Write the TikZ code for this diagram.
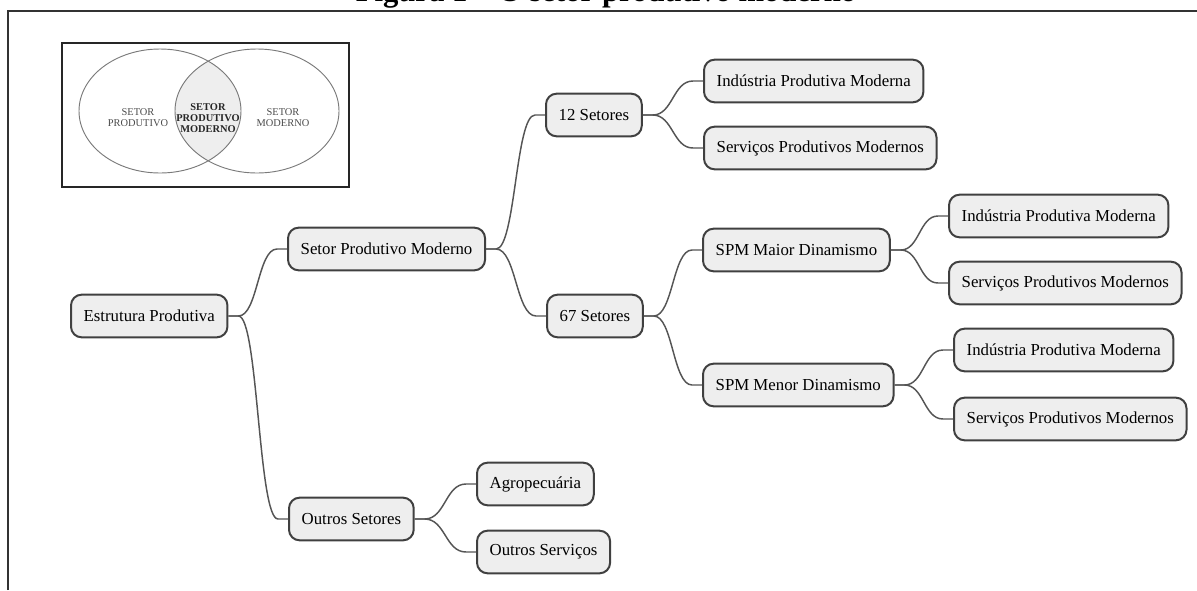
\documentclass[tikz,border=0pt]{standalone}
\usepackage{fontspec}
\setmainfont{Liberation Serif}
\usetikzlibrary{calc}

\definecolor{boxfill}{HTML}{EEEEEE}
\definecolor{boxline}{HTML}{404040}
\definecolor{linkgray}{HTML}{555555}
\definecolor{venngray}{HTML}{7A7A7A}
\definecolor{venntext}{HTML}{4A4A4A}

\tikzset{
  topic/.style={draw=boxline, line width=1.5pt, fill=boxfill, rounded corners=8pt, anchor=west,
    minimum height=32pt, inner xsep=9.5pt, font=\fontsize{12.6}{15}\selectfont},
  link/.style={draw=linkgray, line width=1.1pt},
  venn/.style={align=center, text=venntext, inner sep=0pt, font=\fontsize{7.8}{8.4}\selectfont},
}

% curved connector from the right side of #1 to the left side of #2
\newcommand{\branch}[2]{%
  \draw[link] let \p1=(#1.east), \p2=(#2.west) in
    (\p1) -- ++(7.5pt,0)
    .. controls ({(\x1+\x2)/2},\y1) and ({(\x1+\x2)/2},\y2) .. ($(\p2)+(-7.5pt,0)$)
    -- (\p2);}

\begin{document}
\begin{tikzpicture}[x=0.75pt, y=-0.75pt]
  \useasboundingbox (0,0) rectangle (1197,590);

  % page frame and title (cut off at the top)
  \begin{scope}
    \clip (0,0) rectangle (1197,590);
    \node[anchor=base, font=\bfseries\fontsize{23}{27}\selectfont] (title) at (606,1.5) {Figura 1 -- O setor produtivo moderno};
  \end{scope}
  \draw[line width=1.2pt, black!80] (8,590) -- (8,11) -- (1197,11);

  % venn diagram
  \draw[line width=0.8pt, black!85] (62,43) rectangle (349,187);
  \begin{scope}
    \clip (160,111) ellipse [x radius=81, y radius=62];
    \fill[boxfill] (257,111) ellipse [x radius=82, y radius=62];
  \end{scope}
  \draw[venngray, line width=0.7pt] (160,111) ellipse [x radius=81, y radius=62];
  \draw[venngray, line width=0.7pt] (257,111) ellipse [x radius=82, y radius=62];
  \node[venn] (vprod) at (138,118) {SETOR\\PRODUTIVO};
  \node[venn, text=black!85, font=\bfseries\fontsize{7.8}{8.4}\selectfont] (vspm) at (208,118) {SETOR\\PRODUTIVO\\MODERNO};
  \node[venn] (vmod) at (283,118) {SETOR\\MODERNO};

  % mind map
  \node[topic] (root) at (70,316) {Estrutura Produtiva};
  \node[topic] (spm) at (287,249) {Setor Produtivo Moderno};
  \node[topic] (outros) at (288,519) {Outros Setores};

  \node[topic] (s12) at (545,115) {12 Setores};
  \node[topic] (s67) at (546,316) {67 Setores};
  \node[topic] (ind1) at (703,81) {Indústria Produtiva Moderna};
  \node[topic] (serv1) at (703,148) {Serviços Produtivos Modernos};

  \node[topic] (maior) at (702,250) {SPM Maior Dinamismo};
  \node[topic] (menor) at (702,385) {SPM Menor Dinamismo};
  \node[topic] (ind2) at (948,216) {Indústria Produtiva Moderna};
  \node[topic] (serv2) at (948,283) {Serviços Produtivos Modernos};
  \node[topic] (ind3) at (953,350) {Indústria Produtiva Moderna};
  \node[topic] (serv3) at (953,419) {Serviços Produtivos Modernos};

  \node[topic] (agro) at (476,484) {Agropecuária};
  \node[topic] (oserv) at (476,552) {Outros Serviços};

  \branch{root}{spm}
  \branch{root}{outros}
  \branch{spm}{s12}
  \branch{spm}{s67}
  \branch{s12}{ind1}
  \branch{s12}{serv1}
  \branch{s67}{maior}
  \branch{s67}{menor}
  \branch{maior}{ind2}
  \branch{maior}{serv2}
  \branch{menor}{ind3}
  \branch{menor}{serv3}
  \branch{outros}{agro}
  \branch{outros}{oserv}
\end{tikzpicture}
\end{document}
